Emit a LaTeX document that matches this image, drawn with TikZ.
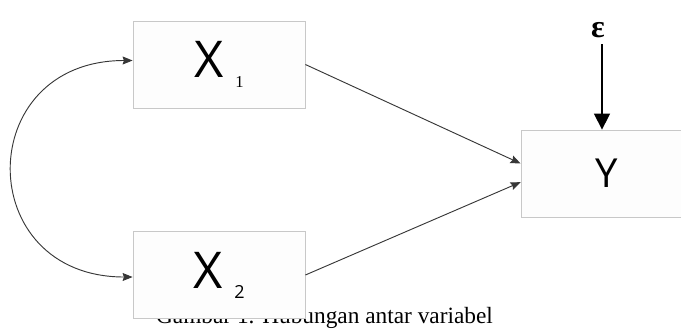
\documentclass[tikz,border=0pt]{standalone}
\usepackage{fontspec}
\setmainfont{Liberation Serif}
\newfontfamily\boxfont{Open Sans}
\definecolor{boxgray}{RGB}{200,200,200}
\definecolor{boxfill}{RGB}{253,253,253}
\definecolor{arrgray}{RGB}{55,55,55}
\usetikzlibrary{arrows.meta,positioning}

\begin{document}
\begin{tikzpicture}[x=0.75pt,y=-0.75pt,
        varbox/.style={draw=boxgray, fill=boxfill, line width=0.6pt,
                     minimum width=129pt, minimum height=65.25pt, inner sep=0pt,
                     font=\boxfont\fontsize{38}{40}\selectfont},
        arr/.style={-{Stealth[length=7.5pt,width=6pt,inset=1pt]}, arrgray, line width=0.7pt},
        errarr/.style={-{Triangle[length=12pt,width=12pt]}, black, line width=1pt}
      ]
        \useasboundingbox (0,0) rectangle (681,329);
        % caption sits behind the lower box
        \node[anchor=base, font=\fontsize{17.5}{20}\selectfont] (cap) at (324.5,323.5)
          {Gambar 1. Hubungan antar variabel};
        \node[varbox] (x1) at (219,64.5)
          {X\hspace{9pt}\raisebox{-7.5pt}{\rmfamily\fontsize{12.5}{15}\selectfont 1}};
        \node[varbox] (x2) at (219,275)
          {X\hspace{9pt}\raisebox{-7.5pt}{\fontsize{13.5}{15}\selectfont 2}};
        \node[varbox, font=\boxfont\fontsize{30}{32}\selectfont] (y) at (607,173.5) {Y};
        \node[anchor=base, font=\bfseries\fontsize{24}{26}\selectfont, inner sep=0pt] (eps) at (598,37) {ε};
        \draw[arr] (x1.east) -- ([yshift=7.5pt]y.west);
        \draw[arr] (x2.east) -- ([yshift=-6.5pt]y.west);
        \draw[arr, {Stealth[length=7.5pt,width=6pt,inset=1pt]}-{Stealth[length=7.5pt,width=6pt,inset=1pt]}]
          ([yshift=3pt]x1.west) to[out=180, in=180, looseness=1.9] ([yshift=-1.5pt]x2.west);
        \draw[errarr] ([xshift=3pt,yshift=-5pt]eps.south) -- ([xshift=3pt]eps.south |- y.north);
      \end{tikzpicture}
\end{document}
